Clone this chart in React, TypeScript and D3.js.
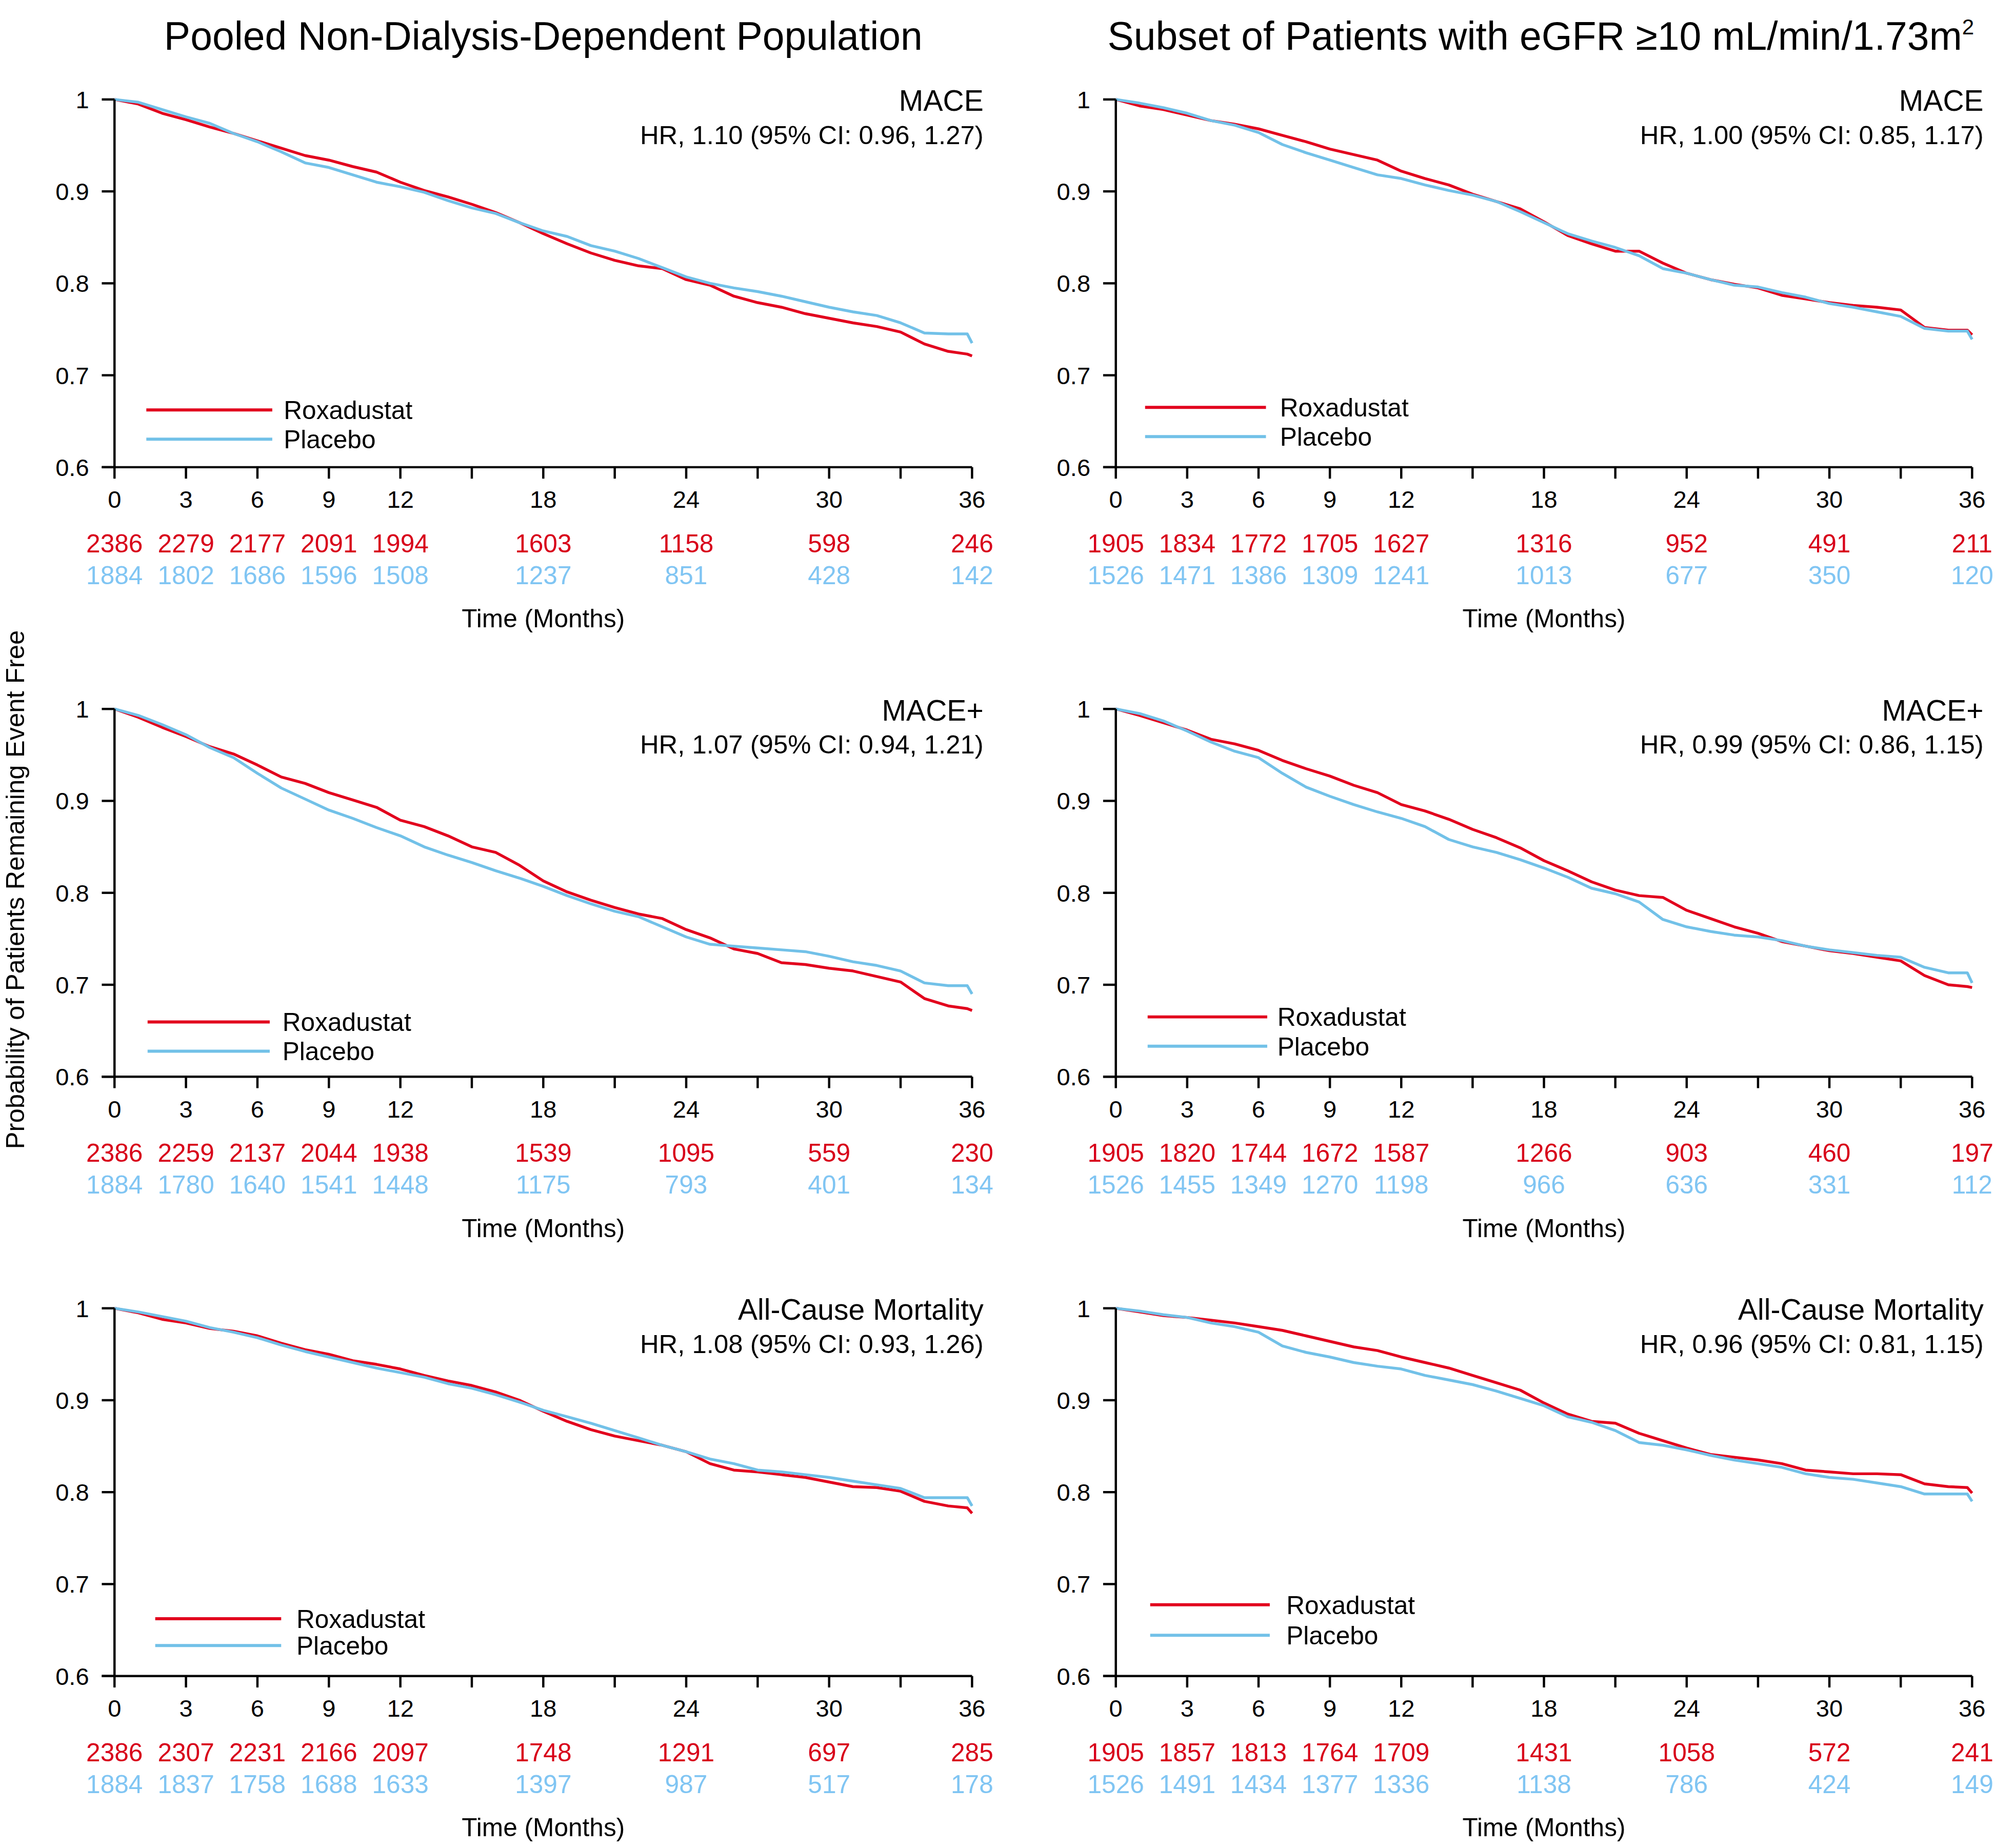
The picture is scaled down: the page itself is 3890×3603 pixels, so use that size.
import React from 'react';
import * as d3 from 'd3';

// time points (months) at which the curves were read
const months = [
  0, 1, 2, 3, 4, 5, 6, 7, 8, 9, 10, 11, 12, 13, 14, 15, 16, 17, 18, 19, 20,
  21, 22, 23, 24, 25, 26, 27, 28, 29, 30, 31, 32, 33, 34, 35, 35.8, 36,
];
const xTickMonths = d3.range(0, 37, 3);
const xLabelMonths = [0, 3, 6, 9, 12, 18, 24, 30, 36];
const yTicks = [0.6, 0.7, 0.8, 0.9, 1];

const seriesNames = ['Roxadustat', 'Placebo'];
const columnTitles = ['Pooled Non-Dialysis-Dependent Population', 'Subset of Patients with eGFR \u226510 mL/min/1.73m'];
const endpoints = ['MACE', 'MACE+', 'All-Cause Mortality'];
const hrLabels = [
  ['HR, 1.10 (95% CI: 0.96, 1.27)', 'HR, 1.00 (95% CI: 0.85, 1.17)'],
  ['HR, 1.07 (95% CI: 0.94, 1.21)', 'HR, 0.99 (95% CI: 0.86, 1.15)'],
  ['HR, 1.08 (95% CI: 0.93, 1.26)', 'HR, 0.96 (95% CI: 0.81, 1.15)'],
];

// Kaplan-Meier estimates
const maceRoxaPooled = [1.000, .995, .985, .978, .970, .963, .955, .947, .939, .934, .927, .921, .910, .901, .894, .886, .877, .866, .854, .843, .833, .825, .819, .816, .804, .798, .786, .779, .774, .767, .762, .757, .753, .747, .734, .726, .723, .721];
const macePlacPooled = [1.000, .997, .989, .981, .974, .963, .954, .943, .931, .926, .918, .910, .905, .899, .890, .882, .876, .866, .857, .851, .841, .835, .827, .817, .807, .800, .795, .791, .786, .780, .774, .769, .765, .757, .746, .745, .745, .735];
const maceRoxaEgfr = [1.000, .993, .989, .983, .977, .973, .968, .961, .954, .946, .940, .934, .922, .914, .907, .897, .889, .881, .867, .852, .843, .835, .835, .822, .811, .804, .799, .795, .787, .783, .779, .776, .774, .771, .752, .749, .749, .744];
const macePlacEgfr = [1.000, .996, .991, .985, .977, .972, .964, .951, .942, .934, .926, .918, .914, .907, .901, .896, .889, .878, .866, .854, .846, .839, .830, .816, .811, .804, .798, .796, .790, .785, .778, .774, .769, .764, .751, .748, .748, .739];
const macePlusRoxaPooled = [1.000, .991, .980, .970, .959, .951, .939, .926, .919, .909, .901, .893, .879, .872, .862, .850, .844, .830, .813, .801, .792, .784, .777, .772, .760, .751, .739, .734, .724, .722, .718, .715, .709, .703, .685, .677, .674, .672];
const macePlusPlacPooled = [1.000, .993, .983, .972, .958, .947, .930, .914, .902, .890, .881, .871, .862, .850, .841, .833, .824, .816, .807, .797, .788, .780, .774, .763, .752, .744, .742, .740, .738, .736, .731, .725, .721, .715, .702, .699, .699, .690];
const macePlusRoxaEgfr = [1.000, .993, .985, .977, .967, .962, .955, .944, .935, .927, .917, .909, .896, .889, .880, .869, .860, .849, .835, .824, .812, .803, .797, .795, .781, .772, .763, .756, .747, .742, .737, .734, .730, .726, .710, .700, .698, .697];
const macePlusPlacEgfr = [1.000, .995, .987, .976, .964, .954, .947, .930, .915, .905, .896, .888, .881, .872, .858, .850, .844, .836, .827, .817, .805, .799, .790, .771, .763, .758, .754, .752, .748, .742, .738, .735, .732, .730, .719, .713, .713, .702];
const acmRoxaPooled = [1.000, .995, .988, .984, .978, .975, .970, .962, .955, .950, .943, .939, .934, .927, .921, .916, .909, .900, .888, .877, .868, .861, .856, .851, .844, .831, .824, .822, .819, .816, .811, .806, .805, .801, .790, .785, .783, .777];
const acmPlacPooled = [1.000, .996, .991, .986, .979, .974, .968, .960, .953, .947, .941, .935, .930, .925, .918, .913, .906, .898, .889, .882, .875, .867, .859, .851, .844, .836, .831, .824, .822, .819, .816, .812, .808, .804, .794, .794, .794, .785];
const acmRoxaEgfr = [1.000, .996, .992, .990, .987, .984, .980, .976, .970, .964, .958, .954, .947, .941, .935, .927, .919, .911, .897, .885, .877, .875, .864, .856, .848, .841, .838, .835, .831, .824, .822, .820, .820, .819, .809, .806, .805, .799];
const acmPlacEgfr = [1.000, .997, .993, .990, .984, .980, .974, .959, .952, .947, .941, .937, .934, .927, .922, .917, .910, .902, .894, .882, .876, .867, .854, .851, .846, .840, .835, .831, .827, .820, .816, .814, .810, .806, .798, .798, .798, .790];

// number at risk at 0, 3, 6, 9, 12, 18, 24, 30, 36 months
const riskMaceRoxaPooled = [2386, 2279, 2177, 2091, 1994, 1603, 1158, 598, 246];
const riskMacePlacPooled = [1884, 1802, 1686, 1596, 1508, 1237, 851, 428, 142];
const riskMaceRoxaEgfr = [1905, 1834, 1772, 1705, 1627, 1316, 952, 491, 211];
const riskMacePlacEgfr = [1526, 1471, 1386, 1309, 1241, 1013, 677, 350, 120];
const riskMacePlusRoxaPooled = [2386, 2259, 2137, 2044, 1938, 1539, 1095, 559, 230];
const riskMacePlusPlacPooled = [1884, 1780, 1640, 1541, 1448, 1175, 793, 401, 134];
const riskMacePlusRoxaEgfr = [1905, 1820, 1744, 1672, 1587, 1266, 903, 460, 197];
const riskMacePlusPlacEgfr = [1526, 1455, 1349, 1270, 1198, 966, 636, 331, 112];
const riskAcmRoxaPooled = [2386, 2307, 2231, 2166, 2097, 1748, 1291, 697, 285];
const riskAcmPlacPooled = [1884, 1837, 1758, 1688, 1633, 1397, 987, 517, 178];
const riskAcmRoxaEgfr = [1905, 1857, 1813, 1764, 1709, 1431, 1058, 572, 241];
const riskAcmPlacEgfr = [1526, 1491, 1434, 1377, 1336, 1138, 786, 424, 149];

const curves = [
  [[maceRoxaPooled, macePlacPooled], [maceRoxaEgfr, macePlacEgfr]],
  [[macePlusRoxaPooled, macePlusPlacPooled], [macePlusRoxaEgfr, macePlusPlacEgfr]],
  [[acmRoxaPooled, acmPlacPooled], [acmRoxaEgfr, acmPlacEgfr]],
];
const risks = [
  [[riskMaceRoxaPooled, riskMacePlacPooled], [riskMaceRoxaEgfr, riskMacePlacEgfr]],
  [[riskMacePlusRoxaPooled, riskMacePlusPlacPooled], [riskMacePlusRoxaEgfr, riskMacePlusPlacEgfr]],
  [[riskAcmRoxaPooled, riskAcmPlacPooled], [riskAcmRoxaEgfr, riskAcmPlacEgfr]],
];

// layout (in a 1568 x 1452 coordinate space, scaled to the page)
const VW = 1568;
const VH = 1452;
const colX = [90, 877];
const colW = [674, 673];
const rowY = [78, 557, 1028];
const plotH = 289;
// legend: [lineStart, lineEnd, textX, y1, y2] relative to plot origin
const legendPos = [
  [[25, 124, 133, 244, 267], [23, 118, 129, 242, 265]],
  [[26, 122, 132, 246, 269], [25, 119, 127, 242, 265]],
  [[32, 131, 143, 244, 265], [27, 121, 134, 233, 257]],
];

const RED = '#e2001d';
const RED_TEXT = '#d8001a';
const BLUE = '#72c1e8';
const BLUE_TEXT = '#80c5f3';
const FONT = '"Liberation Sans", Arial, Helvetica, sans-serif';

const Panel = ({ row, col }: { row: number; col: number }) => {
  const x0 = colX[col];
  const y0 = rowY[row];
  const x = d3.scaleLinear().domain([0, 36]).range([x0, x0 + colW[col]]);
  const y = d3.scaleLinear().domain([0.6, 1]).range([y0 + plotH, y0]);
  const bottom = y(0.6);
  const line = d3
    .line<number>()
    .x((_, i) => x(months[i]))
    .y((d) => y(d))
    .curve(d3.curveLinear);
  const [roxa, plac] = curves[row][col];
  const [riskR, riskP] = risks[row][col];
  const lg = legendPos[row][col];
  const colors = [RED, BLUE];

  return (
    <g>
      {/* curves */}
      <path d={line(roxa) || ''} fill="none" stroke={RED} strokeWidth={2.2} strokeLinejoin="round" />
      <path d={line(plac) || ''} fill="none" stroke={BLUE} strokeWidth={2.2} strokeLinejoin="round" />

      {/* axes */}
      <line x1={x(0)} x2={x(0)} y1={y(1)} y2={bottom} stroke="#000" strokeWidth={1.8} />
      <line x1={x(0) - 10} x2={x(36)} y1={bottom} y2={bottom} stroke="#000" strokeWidth={1.8} />
      {yTicks.map((t) => (
        <g key={'y' + t}>
          <line x1={x(0) - 10} x2={x(0)} y1={y(t)} y2={y(t)} stroke="#000" strokeWidth={1.8} />
          <text x={x(0) - 20} y={y(t)} dy="0.36em" textAnchor="end" fontSize={19}>
            {t === 1 ? '1' : t.toFixed(1)}
          </text>
        </g>
      ))}
      {xTickMonths.map((t) => (
        <line key={'xt' + t} x1={x(t)} x2={x(t)} y1={bottom} y2={bottom + 9} stroke="#000" strokeWidth={1.8} />
      ))}
      {xLabelMonths.map((t, i) => (
        <g key={'xl' + t}>
          <text x={x(t)} y={bottom + 32} textAnchor="middle" fontSize={19}>{t}</text>
          <text x={x(t)} y={bottom + 67} textAnchor="middle" fontSize={20}>
            <tspan fill={RED_TEXT}>{riskR[i]}</tspan>
          </text>
          <text x={x(t)} y={bottom + 92} textAnchor="middle" fontSize={20}>
            <tspan fill={BLUE_TEXT}>{riskP[i]}</tspan>
          </text>
        </g>
      ))}
      <text x={x(18)} y={bottom + 126} textAnchor="middle" fontSize={20}>Time (Months)</text>

      {/* endpoint label */}
      <text x={x(36) + 9} y={y0 + 9} textAnchor="end" fontSize={23}>{endpoints[row]}</text>
      <text x={x(36) + 9} y={y0 + 35} textAnchor="end" fontSize={20.5}>{hrLabels[row][col]}</text>

      {/* legend */}
      {seriesNames.map((name, i) => (
        <g key={name}>
          <line x1={x0 + lg[0]} x2={x0 + lg[1]} y1={y0 + lg[3 + i]} y2={y0 + lg[3 + i]} stroke={colors[i]} strokeWidth={2.4} />
          <text x={x0 + lg[2]} y={y0 + lg[3 + i]} dy="0.36em" fontSize={20}>{name}</text>
        </g>
      ))}
    </g>
  );
};

export default function App() {
  return (
    <svg
      width={3890}
      height={3603}
      viewBox={`0 0 ${VW} ${VH}`}
      style={{ position: 'absolute', left: 0, top: 0, display: 'block', background: '#fff' }}
      fontFamily={FONT}
    >
      <rect x={0} y={0} width={VW} height={VH} fill="#fff" />
      <text x={427} y={39} textAnchor="middle" fontSize={31}>{columnTitles[0]}</text>
      <text x={1211} y={39} textAnchor="middle" fontSize={31}>
        {columnTitles[1]}
        <tspan dy={-12} fontSize={17}>2</tspan>
      </text>
      <text transform="translate(19,699) rotate(-90)" textAnchor="middle" fontSize={20.5}>
        Probability of Patients Remaining Event Free
      </text>
      {[0, 1, 2].map((r) => [0, 1].map((c) => <Panel key={`${r}-${c}`} row={r} col={c} />))}
    </svg>
  );
}
